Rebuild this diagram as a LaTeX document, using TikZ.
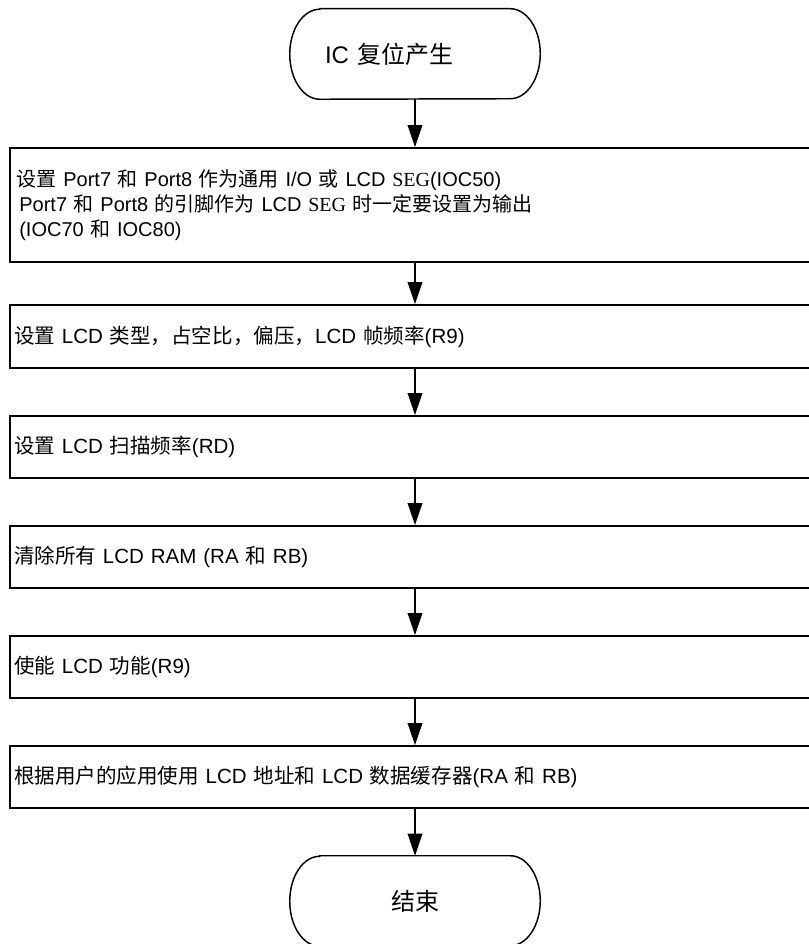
\documentclass[tikz,border=0pt]{standalone}
\usepackage{fontspec}
\setmainfont{Liberation Sans}
\newfontfamily\cjk{Noto Sans CJK SC}
\newfontfamily\segfont{Liberation Serif}
\newcommand\zh[1]{{\cjk #1}}
\newcommand\seg{{\segfont SEG}}
\usetikzlibrary{arrows.meta}

\begin{document}
\begin{tikzpicture}[x=0.75pt, y=0.75pt,
    stepbox/.style={draw, line width=1.4pt, rectangle, minimum width=607.5pt,
      minimum height=46.5pt, text width=601.5pt, inner xsep=3pt, align=left,
      font=\fontsize{15.4pt}{18.75pt}\selectfont},
    term/.style={rectangle, minimum width=142.5pt, minimum height=67.5pt,
      text width=135pt, inner xsep=3.75pt, inner ysep=0pt,
      font=\fontsize{18pt}{22pt}\selectfont},
    outline/.style={line width=1.1pt},
    arr/.style={line width=1pt, -{Triangle[length=16.5pt, width=11pt]}}]
  \useasboundingbox (0,0) rectangle (808,-944);

  % terminals
  \node[term, align=left] (start) at (415,-54) {IC \zh{复位产生}};
  \node[term, align=center] (stop) at (415,-901) {\zh{结束}};
  \foreach \t in {start,stop}{
    \draw[outline] (\t.north west) -- (\t.north east)
      arc[start angle=90, end angle=-90, x radius=22.5pt, y radius=33.75pt]
      -- (\t.south west)
      arc[start angle=270, end angle=90, x radius=22.5pt, y radius=33.75pt] -- cycle;
  }

  % steps
  \node[stepbox, minimum height=85.5pt, font=\fontsize{15pt}{18.75pt}\selectfont] (b1) at (415,-205)
    {\hspace*{2pt}\zh{设置} Port7 \zh{和} Port8 \zh{作为通用} I/O \zh{或} LCD \seg(IOC50)\\
     \hspace*{4pt}Port7 \zh{和} Port8 \zh{的引脚作为} LCD \seg{} \zh{时一定要设置为输出}\\
     \hspace*{4pt}(IOC70 \zh{和} IOC80)};
  \node[stepbox, minimum height=47.25pt] (b2) at (415,-336.5)
    {\zh{设置} LCD \zh{类型，占空比，偏压，}LCD \zh{帧频率}(R9)};
  \node[stepbox] (b3) at (415,-447) {\zh{设置} LCD \zh{扫描频率}(RD)};
  \node[stepbox] (b4) at (415,-557) {\zh{清除所有} LCD RAM (RA \zh{和} RB)};
  \node[stepbox] (b5) at (415,-667) {\zh{使能} LCD \zh{功能}(R9)};
  \node[stepbox] (b6) at (415,-777)
    {\zh{根据用户的应用使用} LCD \zh{地址和} LCD \zh{数据缓存器}(RA \zh{和} RB)};

  \foreach \a/\b in {start/b1, b1/b2, b2/b3, b3/b4, b4/b5, b5/b6, b6/stop}
    \draw[arr] (\a) -- (\b);
\end{tikzpicture}
\end{document}
